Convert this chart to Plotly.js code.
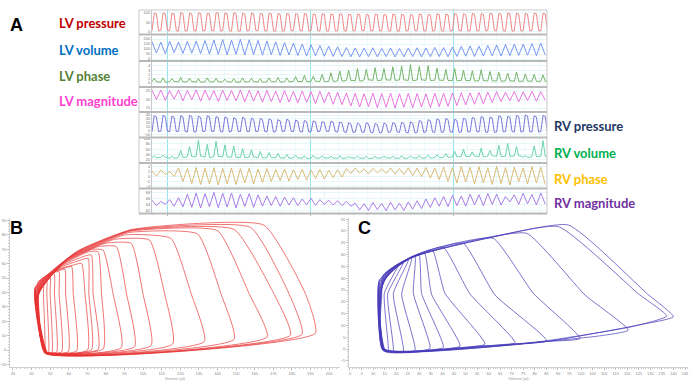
<!DOCTYPE html>
<html><head><meta charset="utf-8">
<script src="https://cdn.plot.ly/plotly-3.0.1.min.js"></script>
<style>html,body{margin:0;padding:0;background:#fff}#c{width:690px;height:384px}</style>
</head><body><div id="c"></div>
<script>
// ---------- Panel A : per-beat values (45 beats) ----------
const lvpPeak    = [97,98,96,99,97,98,96,99,97,98,96,97,95,96,94,95,93,94,92,93,92,93,91,92,90,91,90,92,91,90,92,91,93,92,94,93,95,94,96,95,97,96,95,97,96];
const lvpPlateau = [93,94,92,95,93,95,93,96,94,95,92,93,92,93,90,91,90,91,89,90,88,90,88,89,87,88,86,88,87,86,88,87,89,88,90,89,91,90,92,91,93,92,91,93,92];
const lvpLow     = [4,6,5,3,5,4,6,4,5,3,4,6,5,4,3,5,6,4,5,4,3,5,4,6,5,4,5,3,4,6,5,4,5,3,6,4,5,4,6,5,3,4,5,6,4];

const lvvPeak   = [172,168,178,170,176,180,185,190,194,188,196,192,186,180,172,165,160,150,142,135,128,122,115,110,108,112,106,110,104,108,112,110,116,114,120,126,130,128,136,140,145,150,148,155,158];
const lvvTrough = [60,52,64,56,58,54,50,46,42,48,40,44,38,42,36,40,34,30,32,28,26,24,22,20,24,21,23,20,22,24,21,23,25,22,26,28,25,30,32,30,34,36,38,35,40];

const lvphPeak   = [1.1,1.2,1.0,1.3,1.1,1.0,1.2,1.1,0.9,1.0,1.2,1.1,1.0,1.2,1.3,1.2,1.5,1.8,1.6,2.0,2.4,2.8,3.0,3.4,3.2,3.6,3.4,3.8,4.0,4.3,3.9,4.1,3.5,3.2,3.4,3.0,2.9,3.1,2.7,2.5,2.3,2.6,2.1,2.0,1.9];
const lvphTrough = [0.3,0.2,0.35,0.25,0.3,0.2,0.3,0.25,0.3,0.2,0.25,0.3,0.2,0.3,0.25,0.3,0.35,0.3,0.4,0.35,0.4,0.5,0.6,0.5,0.7,0.6,0.7,0.65,0.7,0.6,0.7,0.6,0.65,0.6,0.55,0.6,0.5,0.55,0.5,0.45,0.5,0.4,0.45,0.4,0.4];

const lvmTop    = [25.4,25.6,25.2,25.5,25.3,25.6,25.4,25.2,25.5,25.3,25.6,25.4,25.1,25.3,25.0,25.2,24.8,25.0,24.6,24.8,24.4,24.2,23.8,23.6,23.4,23.7,23.5,23.8,23.4,23.6,23.5,23.3,23.7,23.6,23.8,24.0,23.9,24.2,24.4,24.6,24.3,24.7,24.5,24.8,24.6];
const lvmTrough = [20.0,19.5,20.2,19.2,19.8,19.0,19.6,18.8,19.4,19.2,18.6,19.0,18.4,18.8,18.2,18.5,18.0,18.3,17.6,18.0,17.2,17.0,16.2,15.6,15.8,15.2,15.5,15.0,15.4,15.1,15.6,15.3,15.8,16.0,16.4,16.8,17.2,17.5,18.2,18.8,19.2,18.6,19.4,19.0,19.5];

const rvpPeak    = [38,39,37,38,39,37,38,36,35,33,34,32,31,30,28,29,27,26,25,23,24,22,20,19,20,18,19,20,21,22,26,28,30,31,29,32,34,36,35,38,37,39,40,38,39];
const rvpPlateau = [35,36,34,35,36,34,35,33,32,30,31,29,28,27,25,26,24,23,22,20,21,19,17,16,17,15,16,17,18,19,23,25,27,28,26,29,31,33,32,35,34,36,37,35,36];
const rvpLow     = [-3,-2,-3,-2,-4,-3,-2,-3,-4,-2,-3,-3,-2,-4,-3,-2,-3,-4,-3,-2,-3,-4,-5,-4,-5,-6,-5,-4,-5,-6,-5,-4,-5,-4,-5,-4,-3,-4,-5,-4,-3,-4,-3,-4,-3];

const rvvPeak   = [36,38,35,55,70,94,78,90,76,72,62,58,52,48,44,40,38,36,37,35,34,36,33,35,34,33,35,34,36,35,37,38,40,44,52,60,50,64,55,75,82,70,36,72,92];
const rvvTrough = [28,30,27,30,32,34,30,33,31,30,29,31,28,29,28,27,28,26,27,28,27,26,28,27,26,27,28,27,26,28,27,28,29,30,32,33,34,32,35,33,34,35,30,33,34];

const rvphPeak   = [2.2,2.6,2.0,3.4,3.2,3.6,3.3,3.5,3.2,3.4,3.1,3.3,3.0,3.2,2.8,3.0,2.7,2.9,2.6,2.8,2.5,2.7,3.2,3.4,3.1,3.3,3.0,3.4,3.2,3.5,3.3,3.6,3.4,3.8,3.6,4.0,3.7,3.9,3.5,4.0,3.6,3.8,3.4,3.9,3.7];
const rvphTrough = [0.2,0.8,0.0,-2.0,-2.8,-3.2,-3.0,-3.4,-2.9,-3.2,-2.6,-3.0,-2.4,-2.0,-1.6,-1.8,-1.2,-1.4,-0.8,-1.0,-0.4,-0.2,1.2,1.4,1.0,1.5,1.2,1.0,0.8,0.4,0.0,-0.6,-1.2,-2.0,-2.6,-2.2,-3.0,-2.6,-3.2,-2.8,-3.4,-2.0,-3.0,-2.6,-3.2];

const rvmPeak   = [65.6,65.2,65.8,66.4,67.6,68.0,67.8,68.2,67.9,68.0,67.6,67.8,67.4,67.0,66.8,66.6,66.4,66.0,66.2,65.8,65.6,65.4,65.2,64.6,64.4,64.8,64.5,64.9,64.6,65.0,65.4,66.0,66.4,66.8,67.2,67.0,67.6,67.4,67.8,67.6,66.8,67.4,67.9,67.5,68.0];
const rvmTrough = [63.8,64.2,63.6,63.4,63.2,63.0,63.4,63.1,63.3,63.0,63.5,63.2,63.6,63.8,63.6,64.0,63.8,64.1,63.9,64.2,64.0,63.8,63.6,62.4,62.2,62.5,62.1,62.4,62.2,62.6,62.8,63.2,63.6,63.4,63.8,63.6,64.0,63.8,64.2,64.0,65.0,64.2,64.4,64.0,64.3];

const stripLabelsLV = ["LV pressure","LV volume","LV phase","LV magnitude"];
const stripLabelsRV = ["RV pressure","RV volume","RV phase","RV magnitude"];

// ---------- Panel B : LV PV loops (21 loops, corner points) ----------
const bBLx = [47.8,47.5,47.9,47.2,47.6,48.0,47.4,47.8,48.2,47.5,47.9,48.3,47.6,48.0,48.4,47.7,48.1,48.5,47.9,47.6,46.8];
const bBLy = [-2.4,-2.3,-2.2,-2.4,-2.1,-2.3,-2.0,-2.2,-1.9,-2.1,-1.8,-2.0,-1.7,-1.9,-1.6,-1.8,-1.5,-1.7,-1.4,-1.6,-1.3];
const bBRx = [192.6,185.4,179.2,166.7,148.9,132.9,115.9,104.3,95.4,88.3,78.5,75.8,72.2,70.1,64.2,59.8,56.2,53.5,50.9,49.1,47.3];
const bBRy = [11.6,10.9,10.3,9.1,7.4,5.9,4.2,3.1,2.3,1.6,0.7,0.4,0.1,-0.1,-0.7,-1.1,-1.3,-1.5,-2.0,-2.1,-2.3];
const bRMx = [187.2,178.3,170.3,156.9,141.8,125.7,111.5,99.9,91.0,83.8,77.6,73.1,70.8,68.7,62.4,58.3,54.8,52.3,50.0,48.2,46.4];
const bRMy = [39.4,39.6,39.2,39.5,39.3,39.6,39.4,39.2,39.5,39.3,39.6,39.4,39.2,39.5,39.3,39.6,39.4,39.2,39.5,39.3,39.4];
const bTRx = [164.9,157.8,148.9,140.0,129.3,115.0,103.4,93.6,85.6,78.5,75.8,72.2,70.5,66.9,61.6,58.0,54.8,52.3,50.0,48.2,46.4];
const bTRy = [86.8,85.2,83.8,82.9,80.6,77.5,76.4,74.1,71.8,69.4,68.3,66.0,63.7,60.2,57.9,56.0,54.4,52.8,50.9,49.3,47.9];
const bR1x = [94.2,93.6,93.0,92.7,91.9,90.1,84.7,79.4,75.8,72.2,70.8,68.7,66.5,62.4,58.9,55.8,53.0,50.9,48.7,46.9,45.2];
const bR1y = [83.8,83.3,82.9,82.4,81.5,79.9,76.9,74.1,71.8,69.9,68.3,65.3,62.5,59.0,57.4,55.6,54.2,52.8,51.4,49.8,48.4];
const bR2x = [65.1,64.2,63.3,62.4,61.6,60.7,59.8,58.9,58.0,57.1,56.2,55.3,54.4,53.5,51.7,50.0,48.2,46.8,45.5,44.4,43.4];
const bR2y = [69.0,68.1,67.1,66.2,65.3,64.4,63.4,62.5,61.3,60.2,59.0,57.9,56.7,55.6,54.2,53.0,51.9,50.7,49.8,48.6,47.5];
const bLTx = [41.9,41.9,41.9,42.1,42.1,42.3,42.3,42.5,42.5,42.7,42.7,42.8,42.8,43.0,43.0,43.2,43.2,43.4,43.4,43.5,43.7];
const bLTy = [43.5,43.1,42.6,42.1,41.7,41.2,40.7,40.3,39.8,39.4,38.9,38.4,38.0,37.5,37.0,36.6,36.1,35.6,35.2,34.7,34.3];
const bLMx = [43.4,43.6,43.3,43.7,43.5,43.8,43.6,43.9,43.7,44.0,43.8,44.1,43.9,44.2,44.0,44.3,44.1,44.4,44.2,44.5,44.3];
const bLMy = [18.6,19.0,18.3,18.8,19.2,18.5,18.9,18.2,18.7,19.1,18.4,18.8,18.1,18.6,19.0,18.3,18.7,18.0,18.5,18.9,18.2];

// ---------- Panel C : RV PV loops (14 loops, corner points) ----------
const cBLx  = [14.4,14.2,14.6,14.3,14.7,14.5,14.8,14.4,14.9,14.6,15.0,14.7,14.3,14.1];
const cBLy  = [-0.4,-0.6,-0.3,-0.5,-0.2,-0.4,-0.1,-0.3,0.0,-0.2,0.1,-0.1,0.2,0.0];
const cBM2x = [84.42,78.64,62.77,52.67,41.13,33.91,29.58,25.25,22.37,20.92,18.76,17.32,15.87,15.15];
const cBM2y = [3.11,2.68,1.27,0.71,-0.14,-0.85,-1.13,-1.55,-1.55,-1.55,-1.55,-1.41,-1.27,-0.99];
const cBM1x = [124.82,121.93,107.50,84.42,67.10,55.56,45.45,38.24,32.47,28.14,23.81,20.20,17.32,15.87];
const cBM1y = [10.17,9.46,5.51,3.25,1.98,1.27,0.42,-0.14,-0.56,-0.99,-1.41,-1.55,-1.55,-1.27];
const cBRx  = [139.97,137.09,120.49,99.57,85.14,71.43,58.44,47.62,40.40,34.63,28.14,23.09,18.76,16.59];
const cBRy  = [13.70,13.98,8.05,4.52,3.53,2.68,2.12,1.27,0.71,0.28,-0.42,-0.85,-1.13,-0.99];
const cRMx  = [128.43,124.82,101.73,79.37,62.77,51.95,41.13,35.35,31.02,27.42,22.37,18.76,16.31,14.86];
const cRMy  = [23.59,23.40,22.88,23.59,22.88,23.30,23.59,23.10,23.45,23.59,23.20,23.50,23.30,23.59];
const cTRx  = [94.52,90.19,76.48,62.05,49.06,40.40,35.64,32.18,29.87,28.14,26.70,25.25,23.09,20.92];
const cTRy  = [52.54,51.84,49.01,46.89,44.77,43.08,41.95,40.82,39.83,39.12,38.42,37.71,36.58,35.59];
const cR1x  = [61.33,58.44,52.67,45.45,38.24,32.47,29.58,27.42,25.97,24.53,23.09,21.65,20.20,18.76];
const cR1y  = [47.32,46.75,45.90,44.77,43.08,41.38,40.25,39.41,38.56,37.71,36.86,36.02,35.17,34.32];
const cR2x  = [26.70,26.70,25.97,25.25,23.81,22.37,20.92,19.48,18.33,17.32,16.31,15.44,14.72,14.00];
const cR2y  = [39.12,38.84,38.42,37.99,37.43,36.58,35.88,35.17,34.46,33.76,33.05,32.34,31.64,30.93];
const cLTx  = [12.70,12.70,12.84,12.84,12.99,12.99,13.13,13.13,13.28,13.28,13.42,13.42,13.56,13.71];
const cLTy  = [29.24,28.95,28.53,28.11,27.54,26.98,26.41,25.85,25.28,24.72,24.15,23.59,23.02,22.46];
const cLMx  = [12.3,12.5,12.4,12.6,12.5,12.7,12.6,12.8,12.7,12.9,12.8,13.0,12.9,13.1];
const cLMy  = [12.3,12.6,12.1,12.5,12.8,12.2,12.6,12.0,12.4,12.7,12.1,12.5,12.9,12.3];

// ---------- build ----------
function pattern(step, rows){
  const x=[], y=[], n=rows[0].length, k=rows.length;
  for(let i=0;i<n;i++) for(let j=0;j<k;j++){ x.push((i*k+j)*step); y.push(rows[j][i]); }
  return {x, y};
}
function loopPath(cols, i){
  return {x: cols.map(c=>c[0][i]), y: cols.map(c=>c[1][i])};
}
const traces = [];
const stripDefs = [
  {d: pattern(0.25,[lvpLow,lvpPeak,lvpPlateau,lvpLow]), c:'#ec7a7c'},
  {d: pattern(0.5,[lvvPeak,lvvTrough]), c:'#6b8cf0'},
  {d: pattern(0.25,[lvphTrough,lvphPeak,lvphTrough,lvphTrough]), c:'#6aad5a'},
  {d: pattern(0.5,[lvmTop,lvmTrough]), c:'#e468da'},
  {d: pattern(0.25,[rvpLow,rvpPeak,rvpPlateau,rvpLow]), c:'#7468d6'},
  {d: pattern(0.25,[rvvTrough,rvvPeak,rvvTrough,rvvTrough]), c:'#5ccfa2'},
  {d: pattern(0.5,[rvphPeak,rvphTrough]), c:'#d6b468'},
  {d: pattern(0.5,[rvmPeak,rvmTrough]), c:'#a06ee4'}
];
stripDefs.forEach((s,k)=>{
  traces.push({x:s.d.x, y:s.d.y, xaxis:'x', yaxis: k===0?'y':'y'+(k+1), type:'scatter', mode:'lines',
    line:{color:s.c, width:0.9}, hoverinfo:'skip'});
});
const bCols = [[bBLx,bBLy],[bBRx,bBRy],[bRMx,bRMy],[bTRx,bTRy],[bR1x,bR1y],[bR2x,bR2y],[bLTx,bLTy],[bLMx,bLMy],[bBLx,bBLy]];
for(let i=0;i<bTRx.length;i++){
  const p = loopPath(bCols,i);
  traces.push({x:p.x, y:p.y, xaxis:'x2', yaxis:'y9', type:'scatter', mode:'lines',
    line:{color:'rgba(232,50,50,0.85)', width:0.8, shape:'spline', smoothing:0.45}, hoverinfo:'skip'});
}
const cCols = [[cBLx,cBLy],[cBM2x,cBM2y],[cBM1x,cBM1y],[cBRx,cBRy],[cRMx,cRMy],[cTRx,cTRy],[cR1x,cR1y],[cR2x,cR2y],[cLTx,cLTy],[cLMx,cLMy],[cBLx,cBLy]];
for(let i=0;i<cTRx.length;i++){
  const p = loopPath(cCols,i);
  traces.push({x:p.x, y:p.y, xaxis:'x3', yaxis:'y10', type:'scatter', mode:'lines',
    line:{color:'rgba(72,60,185,0.9)', width:0.8, shape:'spline', smoothing:0.45}, hoverinfo:'skip'});
}

// ---------- layout ----------
const H = 384, W = 690;
const py = v => 1 - v/H, px = v => v/W;
const stripRanges = [[-9.4,113],[-10,235],[-0.71,4.94],[13.24,26.76],[-18.1,45.2],[8.8,100],[-4.8,5.0],[61.33,69.33]];
const stripTicks  = [[0,50,100],[0,50,100,150,200],[0,1,2,3,4],[15,20,25],[-10,0,10,20,30,40],[20,40,60,80,100],[-4,-2,0,2,4],[62,64,66,68]];
const stripPx = [[10,33.5],[35.5,60],[62,86],[88,111],[113,137.5],[138.5,163],[164,188.5],[189,213]];
const layout = {
  width:W, height:H, margin:{l:0,r:0,t:0,b:0}, showlegend:false,
  paper_bgcolor:'#ffffff', plot_bgcolor:'rgba(0,0,0,0)',
  font:{family:'Liberation Sans, Arial, sans-serif'},
  xaxis:{domain:[px(152),px(547)], anchor:'y8', range:[0,44.7], showticklabels:false,
    tick0:1.7, dtick:16.2, showgrid:true, gridcolor:'#93e3ec', gridwidth:1, zeroline:false,
    ticks:'outside', ticklen:2, tickcolor:'#bbb',
    minor:{tick0:1.7, dtick:1.62, showgrid:true, gridcolor:'#e2f5f8', gridwidth:0.6, ticks:'outside', ticklen:1, tickcolor:'#ccc'}},
  xaxis2:{domain:[px(10),px(340)], anchor:'y9', range:[28.4,205.9], tick0:30, dtick:10,
    ticks:'outside', ticklen:2, tickcolor:'#bbb', showline:true, linecolor:'#cfcfcf', linewidth:1,
    tickfont:{size:4, color:'#888'}, showgrid:false, zeroline:false,
    minor:{dtick:2, ticks:'outside', ticklen:1, tickcolor:'#ccc'},
    title:{text:'Volume (µl)', font:{size:4, color:'#999'}, standoff:1}},
  yaxis9:{domain:[py(367),py(218)], anchor:'x2', range:[-11.8,91.7], dtick:10,
    ticks:'outside', ticklen:2, tickcolor:'#bbb', showline:true, linecolor:'#cfcfcf', linewidth:1,
    tickfont:{size:4, color:'#888'}, showgrid:false, zeroline:false,
    minor:{dtick:2, ticks:'outside', ticklen:1, tickcolor:'#ccc'}},
  xaxis3:{domain:[px(349),px(688)], anchor:'y10', range:[-0.43,146.3], tick0:0, dtick:5,
    ticks:'outside', ticklen:2, tickcolor:'#bbb', showline:true, linecolor:'#cfcfcf', linewidth:1,
    tickfont:{size:4, color:'#888'}, showgrid:false, zeroline:false,
    minor:{dtick:1, ticks:'outside', ticklen:1, tickcolor:'#ccc'},
    title:{text:'Volume (µl)', font:{size:4, color:'#999'}, standoff:1}},
  yaxis10:{domain:[py(367),py(218)], anchor:'x3', range:[-7.6,55.5], dtick:5,
    ticks:'outside', ticklen:2, tickcolor:'#bbb', showline:true, linecolor:'#cfcfcf', linewidth:1,
    tickfont:{size:4, color:'#888'}, showgrid:false, zeroline:false,
    minor:{dtick:1, ticks:'outside', ticklen:1, tickcolor:'#ccc'}},
  annotations:[], shapes:[]
};
stripPx.forEach((s,k)=>{
  const name = k===0 ? 'yaxis' : 'yaxis'+(k+1);
  layout[name] = {domain:[py(s[1]), py(s[0])], anchor:'x', range:stripRanges[k], tickvals:stripTicks[k],
    showgrid:true, gridcolor:'#d6f1f5', gridwidth:0.6, zeroline:false, showline:true, linecolor:'#c8c8c8',
    linewidth:1, ticks:'', tickfont:{size:4, color:'#777'}, fixedrange:true};
});
// panel A frame and strip separators
layout.shapes.push({type:'rect', xref:'paper', yref:'paper', x0:px(139), x1:px(547), y0:py(213.5), y1:py(10),
  line:{color:'#c8c8c8', width:1}});
[34.5,61,87,112,137.5,163,188.5,213.5].forEach(v=>{
  layout.shapes.push({type:'line', xref:'paper', yref:'paper', x0:px(139), x1:px(547), y0:py(v), y1:py(v),
    line:{color:'#b9b9b9', width:2}});
});
const lab = (t,x,y,c,s)=>({text:'<b>'+t+'</b>', x:px(x), y:py(y), xref:'paper', yref:'paper',
  xanchor:'left', yanchor:'middle', showarrow:false, font:{family:'Lato, Open Sans, sans-serif', size:s||13, color:c}});
const lvCols = ['#c00000','#0070c0','#548235','#ff3fd0'];
const rvCols = ['#1f3864','#00b050','#ffc000','#7030a0'];
const lvY = [23.5,49.5,76,100.5], rvY = [126,152.5,179,203];
stripLabelsLV.forEach((t,k)=>layout.annotations.push(lab(t,57,lvY[k],lvCols[k])));
stripLabelsRV.forEach((t,k)=>layout.annotations.push(lab(t,552,rvY[k],rvCols[k])));
const big = (t,x,y)=>({text:'<b>'+t+'</b>', x:px(x), y:py(y), xref:'paper', yref:'paper',
  xanchor:'left', yanchor:'middle', showarrow:false, font:{family:'Liberation Sans, Arial, sans-serif', size:18, color:'#000'}});
layout.annotations.push(big('A',8,25), big('B',8,228), big('C',356,228));

Plotly.newPlot('c', traces, layout, {staticPlot:true, displayModeBar:false});
</script>
</body></html>
